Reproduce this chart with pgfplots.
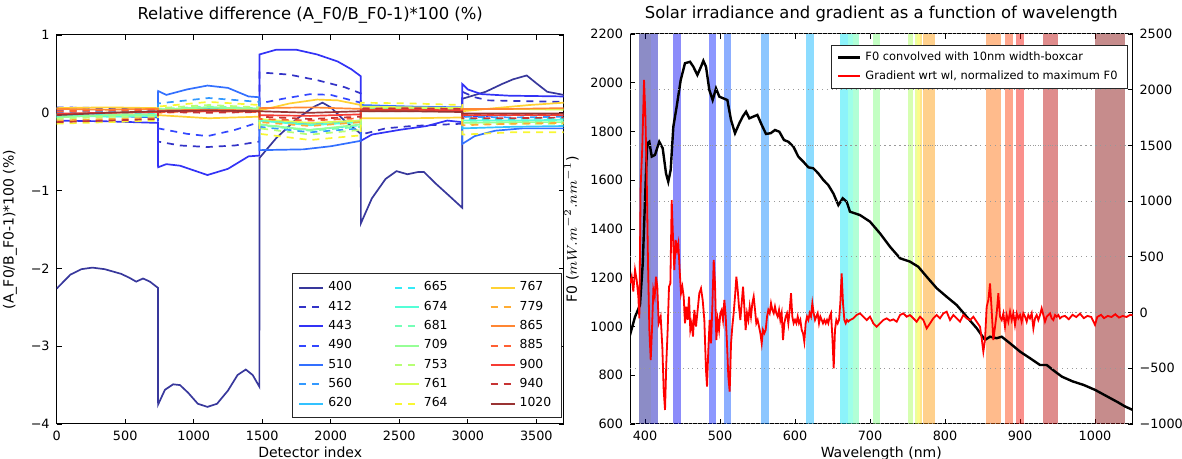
\documentclass[border=0pt]{standalone}
\usepackage{fontspec}
\setmainfont{DejaVu Sans}
\usepackage{pgfplots}
\pgfplotsset{compat=1.18}
\definecolor{j0}{rgb}{0,0,0.5}
\definecolor{j1}{rgb}{0,0,0.727}
\definecolor{j2}{rgb}{0,0,0.955}
\definecolor{j3}{rgb}{0,0.1,1}
\definecolor{j4}{rgb}{0,0.3,1}
\definecolor{j5}{rgb}{0,0.5,1}
\definecolor{j6}{rgb}{0,0.7,1}
\definecolor{j7}{rgb}{0,0.9,0.968}
\definecolor{j8}{rgb}{0.161,1,0.806}
\definecolor{j9}{rgb}{0.323,1,0.645}
\definecolor{j10}{rgb}{0.484,1,0.484}
\definecolor{j11}{rgb}{0.645,1,0.323}
\definecolor{j12}{rgb}{0.806,1,0.161}
\definecolor{j13}{rgb}{0.968,0.963,0}
\definecolor{j14}{rgb}{1,0.778,0}
\definecolor{j15}{rgb}{1,0.593,0}
\definecolor{j16}{rgb}{1,0.407,0}
\definecolor{j17}{rgb}{1,0.222,0}
\definecolor{j18}{rgb}{0.955,0.037,0}
\definecolor{j19}{rgb}{0.727,0,0}
\definecolor{j20}{rgb}{0.5,0,0}
\pgfplotsset{
 dsh/.style={dash pattern=on 3.5pt off 3pt},
 ln/.style={line width=0.85pt},
 s400/.style={ln,color=j0!78!white}, s412/.style={ln,color=j1!80!white,dsh}, s443/.style={ln,color=j2!80!white}, s490/.style={ln,color=j3!80!white,dsh},
 s510/.style={ln,color=j4!80!white}, s560/.style={ln,color=j5!80!white,dsh}, s620/.style={ln,color=j6!80!white}, s665/.style={ln,color=j7!80!white,dsh},
 s674/.style={ln,color=j8!80!white}, s681/.style={ln,color=j9!80!white,dsh}, s709/.style={ln,color=j10!80!white}, s753/.style={ln,color=j11!80!white,dsh},
 s761/.style={ln,color=j12!80!white}, s764/.style={ln,color=j13!80!white,dsh}, s767/.style={ln,color=j14!80!white}, s779/.style={ln,color=j15!80!white,dsh},
 s865/.style={ln,color=j16!80!white}, s885/.style={ln,color=j17!80!white,dsh}, s900/.style={ln,color=j18!80!white}, s940/.style={ln,color=j19!80!white,dsh},
 s1020/.style={ln,color=j20!80!white},
 band/.style={draw=none, fill=#1, fill opacity=0.45, forget plot},
}
\newcommand{\tfont}{\fontsize{6.4}{7.5}\selectfont}
\newcommand{\lfont}{\fontsize{7}{8}\selectfont}
\newcommand{\ttfont}{\fontsize{8.2}{9.5}\selectfont}
\begin{document}
\begin{tikzpicture}
\useasboundingbox (0,0) rectangle (591pt,229.5pt);
% ---------------- left panel ----------------
\begin{axis}[
 at={(28.35pt,17.5pt)}, anchor=south west, scale only axis,
 width=253.5pt, height=194.5pt,
 xmin=0, xmax=3700, ymin=-4, ymax=1,
 xtick={0,500,...,3500}, ytick={-4,-3,-2,-1,0,1},
 yticklabels={−4,−3,−2,−1,0,1},
 /pgf/number format/assume math mode=true,
 /pgf/number format/1000 sep={},
 tick label style={font=\tfont},
 label style={font=\lfont},
 xlabel={Detector index}, ylabel={(A\_F0/B\_F0-1)*100 (\%)},
 xlabel style={yshift=4pt},
 title={Relative difference (A\_F0/B\_F0-1)*100 (\%)},
 title style={font=\ttfont, yshift=-3.5pt},
 tick align=inside, major tick length=2.5pt,
 axis line style={line width=0.5pt},
 every tick/.style={black, line width=0.4pt},
 legend columns=3,
 legend image code/.code={\draw[#1, line width=1pt] (0pt,0pt) -- (12pt,0pt);},
 legend style={at={(0.996,0.015)}, anchor=south east, font=\fontsize{6.2}{6.5}\selectfont,
   draw=black!85, line width=0.5pt, inner xsep=3pt, inner ysep=2pt, row sep=-0.45pt,
   /tikz/every even column/.append style={column sep=19pt}},
 legend cell align=left,
]
\addplot[s400, forget plot] coordinates {(0,-2.26)(100,-2.08)(180,-2.01)(260,-1.99)(350,-2.01)(470,-2.07)(530,-2.12)(580,-2.17)(630,-2.13)(680,-2.17)(739,-2.25)
 (740,-3.75)(790,-3.56)(850,-3.49)(900,-3.5)(960,-3.6)(1030,-3.74)(1100,-3.78)(1170,-3.74)(1250,-3.57)(1320,-3.37)(1380,-3.3)(1430,-3.37)(1479,-3.52)
 (1480,-0.58)(1600,-0.33)(1750,-0.08)(1880,0.08)(1940,0.13)(2000,0.07)(2100,-0.1)(2219,-0.27)
 (2220,-1.42)(2300,-1.1)(2400,-0.85)(2480,-0.75)(2560,-0.79)(2640,-0.76)(2680,-0.76)(2760,-0.9)(2860,-1.06)(2959,-1.22)
 (2960,0.18)(3130,0.27)(3250,0.37)(3330,0.43)(3430,0.48)(3500,0.38)(3580,0.27)(3700,0.23)};
\addplot[s412, forget plot] coordinates {(0,0.07)(370,0.06)(739,0.05)
 (740,-0.37)(900,-0.42)(1100,-0.44)(1300,-0.42)(1479,-0.37)
 (1480,0.52)(1700,0.49)(1900,0.42)(2100,0.33)(2219,0.25)
 (2220,-0.28)(2400,-0.2)(2590,-0.17)(2959,-0.14)
 (2960,0.27)(3050,0.2)(3150,0.16)(3400,0.15)(3700,0.14)};
\addplot[s443, forget plot] coordinates {(0,-0.1)(370,-0.11)(739,-0.13)
 (740,-0.7)(800,-0.66)(900,-0.68)(1100,-0.8)(1250,-0.72)(1400,-0.56)(1479,-0.55)
 (1480,0.75)(1600,0.81)(1750,0.81)(1900,0.75)(2050,0.66)(2150,0.56)(2219,0.47)
 (2220,-0.36)(2300,-0.28)(2500,-0.22)(2700,-0.17)(2850,-0.1)(2959,-0.12)
 (2960,0.37)(3000,0.3)(3100,0.24)(3300,0.22)(3700,0.21)};
\addplot[s490, forget plot] coordinates {(0,0.03)(370,0.02)(739,0.01)
 (740,-0.2)(950,-0.27)(1100,-0.3)(1300,-0.22)(1479,-0.12)
 (1480,0.12)(1650,0.18)(1850,0.24)(2000,0.23)(2219,0.13)
 (2220,0.06)(2590,0.05)(2959,0.05)
 (2960,-0.05)(3330,-0.03)(3700,-0.02)};
\addplot[s510, forget plot] coordinates {(0,-0.02)(370,-0.04)(739,-0.06)
 (740,0.28)(800,0.23)(950,0.3)(1100,0.35)(1250,0.32)(1400,0.21)(1479,0.2)
 (1480,-0.48)(1800,-0.47)(2000,-0.43)(2219,-0.36)
 (2220,0.1)(2590,0.08)(2959,0.07)
 (2960,-0.4)(3050,-0.3)(3200,-0.23)(3400,-0.2)(3700,-0.2)};
\addplot[s560, forget plot] coordinates {(0,0.0)(370,0.02)(739,0.03)(740,0.12)(1110,0.19)(1479,0.14)(1480,-0.18)(1850,-0.25)(2219,-0.2)(2220,0.06)(2590,0.05)(2959,0.04)(2960,-0.05)(3330,-0.06)(3700,-0.05)};
\addplot[s620, forget plot] coordinates {(0,-0.05)(370,-0.03)(739,-0.02)(740,0.04)(1110,0.06)(1479,0.05)(1480,-0.1)(1850,-0.14)(2219,-0.1)(2220,0.05)(2590,0.06)(2959,0.05)(2960,-0.2)(3330,-0.18)(3700,-0.17)};
\addplot[s665, forget plot] coordinates {(0,-0.04)(370,-0.02)(739,0.0)(740,0.03)(1110,0.06)(1479,0.05)(1480,-0.15)(1850,-0.22)(2219,-0.16)(2220,0.04)(2590,0.05)(2959,0.04)(2960,-0.08)(3330,-0.08)(3700,-0.07)};
\addplot[s674, forget plot] coordinates {(0,-0.03)(370,-0.05)(739,-0.04)(740,0.04)(1110,0.07)(1479,0.05)(1480,-0.1)(1850,-0.16)(2219,-0.12)(2220,0.03)(2590,0.04)(2959,0.03)(2960,-0.1)(3330,-0.1)(3700,-0.09)};
\addplot[s681, forget plot] coordinates {(0,-0.06)(370,-0.04)(739,-0.03)(740,0.05)(1110,0.08)(1479,0.06)(1480,-0.16)(1850,-0.23)(2219,-0.18)(2220,0.05)(2590,0.06)(2959,0.05)(2960,-0.12)(3330,-0.12)(3700,-0.11)};
\addplot[s709, forget plot] coordinates {(0,-0.06)(370,-0.03)(739,-0.02)(740,0.04)(1110,0.07)(1479,0.05)(1480,-0.15)(1850,-0.22)(2219,-0.15)(2220,0.04)(2590,0.04)(2959,0.03)(2960,-0.13)(3330,-0.12)(3700,-0.12)};
\addplot[s753, forget plot] coordinates {(0,-0.08)(370,-0.05)(739,-0.05)(740,0.06)(1110,0.1)(1479,0.07)(1480,-0.2)(1850,-0.28)(2219,-0.22)(2220,0.07)(2590,0.06)(2959,0.05)(2960,-0.15)(3330,-0.14)(3700,-0.14)};
\addplot[s761, forget plot] coordinates {(0,-0.02)(370,0.0)(739,0.01)(740,0.02)(1110,0.03)(1479,0.03)(1480,-0.08)(1850,-0.13)(2219,-0.1)(2220,0.08)(2590,0.07)(2959,0.06)(2960,0.05)(3330,0.05)(3700,0.04)};
\addplot[s764, forget plot] coordinates {(0,-0.14)(370,-0.12)(739,-0.1)(740,0.08)(1110,0.14)(1479,0.1)(1480,-0.27)(1850,-0.35)(2219,-0.29)(2220,0.13)(2590,0.12)(2959,0.1)(2960,-0.28)(3330,-0.25)(3700,-0.25)};
\addplot[s767, forget plot] coordinates {(0,0.06)(370,0.07)(739,0.06)(740,-0.03)(1110,-0.07)(1479,-0.05)
 (1480,0.03)(1700,0.12)(1900,0.17)(2050,0.16)(2219,0.1)(2220,-0.07)(2590,-0.07)(2959,-0.06)
 (2960,0.02)(3200,0.06)(3450,0.1)(3700,0.13)};
\addplot[s779, forget plot] coordinates {(0,-0.1)(370,-0.08)(739,-0.07)(740,0.0)(1110,0.02)(1479,0.01)(1480,-0.12)(1850,-0.17)(2219,-0.12)(2220,0.02)(2590,0.02)(2959,0.02)(2960,-0.16)(3330,-0.14)(3700,-0.13)};
\addplot[s865, forget plot] coordinates {(0,0.05)(370,0.04)(739,0.05)(740,0.03)(1110,0.04)(1479,0.03)(1480,0.06)(1850,0.07)(2219,0.05)(2220,0.03)(2590,0.03)(2959,0.02)(2960,0.05)(3330,0.05)(3700,0.06)};
\addplot[s885, forget plot] coordinates {(0,0.02)(370,0.03)(739,0.04)(740,0.01)(1110,0.02)(1479,0.01)(1480,-0.08)(1850,-0.1)(2219,-0.07)(2220,0.06)(2590,0.05)(2959,0.05)(2960,-0.02)(3330,-0.02)(3700,-0.02)};
\addplot[s900, forget plot] coordinates {(0,-0.01)(370,0.0)(739,0.01)(740,0.02)(1110,0.02)(1479,0.02)(1480,-0.03)(1850,-0.04)(2219,-0.02)(2220,0.04)(2590,0.04)(2959,0.03)(2960,-0.03)(3330,-0.03)(3700,-0.03)};
\addplot[s940, forget plot] coordinates {(0,-0.12)(370,-0.1)(739,-0.08)(740,0.01)(1110,0.0)(1479,0.01)(1480,-0.05)(1850,-0.08)(2219,-0.05)(2220,0.05)(2590,0.06)(2959,0.05)(2960,-0.07)(3330,-0.07)(3700,-0.06)};
\addplot[s1020, forget plot] coordinates {(0,-0.03)(370,0.0)(739,0.02)(740,0.02)(1110,0.03)(1479,0.02)(1480,0.02)(1850,0.0)(2219,0.02)(2220,0.02)(2590,0.02)(2959,0.01)(2960,-0.01)(3330,-0.01)(3700,-0.01)};
\addlegendimage{s400}\addlegendentry{400}
\addlegendimage{s665}\addlegendentry{665}
\addlegendimage{s767}\addlegendentry{767}
\addlegendimage{s412}\addlegendentry{412}
\addlegendimage{s674}\addlegendentry{674}
\addlegendimage{s779}\addlegendentry{779}
\addlegendimage{s443}\addlegendentry{443}
\addlegendimage{s681}\addlegendentry{681}
\addlegendimage{s865}\addlegendentry{865}
\addlegendimage{s490}\addlegendentry{490}
\addlegendimage{s709}\addlegendentry{709}
\addlegendimage{s885}\addlegendentry{885}
\addlegendimage{s510}\addlegendentry{510}
\addlegendimage{s753}\addlegendentry{753}
\addlegendimage{s900}\addlegendentry{900}
\addlegendimage{s560}\addlegendentry{560}
\addlegendimage{s761}\addlegendentry{761}
\addlegendimage{s940}\addlegendentry{940}
\addlegendimage{s620}\addlegendentry{620}
\addlegendimage{s764}\addlegendentry{764}
\addlegendimage{s1020}\addlegendentry{1020}
\end{axis}
% ---------------- right panel, left axis ----------------
\begin{axis}[
 at={(315pt,17.5pt)}, anchor=south west, scale only axis,
 width=251.25pt, height=195pt,
 xmin=380, xmax=1050, ymin=600, ymax=2200,
 axis y line*=left,
 xtick={400,500,...,1000}, ytick={600,800,...,2200},
 /pgf/number format/assume math mode=true,
 /pgf/number format/1000 sep={},
 tick label style={font=\tfont},
 label style={font=\lfont},
 xlabel={Wavelength (nm)}, ylabel={F0 ($mW.m^{-2}.nm^{-1}$)},
 xlabel style={yshift=4pt}, ylabel style={yshift=-1pt},
 title={Solar irradiance and gradient as a function of wavelength},
 title style={font=\ttfont, yshift=-3.5pt},
 tick align=inside, major tick length=2.5pt,
 axis line style={line width=0.5pt},
 every tick/.style={black, line width=0.4pt},
]
\addplot[band=j0] coordinates {(392.5,2200)(407.5,2200)} \closedcycle;
\addplot[band=j1] coordinates {(407.5,2200)(417.5,2200)} \closedcycle;
\addplot[band=j2] coordinates {(437.5,2200)(447.5,2200)} \closedcycle;
\addplot[band=j3] coordinates {(485,2200)(495,2200)} \closedcycle;
\addplot[band=j4] coordinates {(505,2200)(515,2200)} \closedcycle;
\addplot[band=j5] coordinates {(555,2200)(565,2200)} \closedcycle;
\addplot[band=j6] coordinates {(615,2200)(625,2200)} \closedcycle;
\addplot[band=j7] coordinates {(660,2200)(670,2200)} \closedcycle;
\addplot[band=j8] coordinates {(670,2200)(677.5,2200)} \closedcycle;
\addplot[band=j9] coordinates {(677.5,2200)(685,2200)} \closedcycle;
\addplot[band=j10] coordinates {(703.75,2200)(713.75,2200)} \closedcycle;
\addplot[band=j11] coordinates {(750,2200)(757.5,2200)} \closedcycle;
\addplot[band=j12] coordinates {(760,2200)(762.5,2200)} \closedcycle;
\addplot[band=j13] coordinates {(762.5,2200)(766.25,2200)} \closedcycle;
\addplot[band=j14] coordinates {(766.25,2200)(768.75,2200)} \closedcycle;
\addplot[band=j15] coordinates {(771.25,2200)(786.25,2200)} \closedcycle;
\addplot[band=j16] coordinates {(855,2200)(875,2200)} \closedcycle;
\addplot[band=j17] coordinates {(880,2200)(890,2200)} \closedcycle;
\addplot[band=j18] coordinates {(895,2200)(905,2200)} \closedcycle;
\addplot[band=j19] coordinates {(930,2200)(950,2200)} \closedcycle;
\addplot[band=j20] coordinates {(1000,2200)(1040,2200)} \closedcycle;
\addplot[black, line width=1.2pt] coordinates {(378,955)(380,965)(386.7,1040)(393.3,1088)(397,1259)(401.3,1628)(403,1751)(405.7,1758)(409,1697)(413.3,1704)(419,1758)(423.6,1731)(428,1628)(431,1594)(434.2,1642)(437.8,1820)(442.2,1902)(447.6,2011)(453.3,2080)(460,2086)(464.4,2066)(469.8,2032)(474.7,2066)(477.8,2090)(481.3,2066)(485.8,1970)(490.2,1929)(494.7,1977)(499.1,1943)(504.4,1936)(509.8,1929)(514.7,1847)(520,1793)(525.8,1834)(530.2,1861)(534.7,1881)(539.1,1854)(544.4,1861)(549.8,1868)(555.6,1827)(561.3,1790)(567.6,1793)(573.3,1806)(579.1,1799)(585.3,1765)(591.1,1758)(597.8,1738)(604.4,1697)(611.1,1676)(617.8,1653)(624.4,1649)(631.1,1628)(637.8,1601)(644.4,1580)(651.1,1546)(657.8,1498)(663.6,1526)(668.9,1512)(673.3,1471)(686.7,1457)(700,1430)(713.3,1382)(726.7,1327)(740,1280)(753.3,1266)(764.4,1245)(775.6,1204)(788.9,1157)(802.2,1122)(815.6,1088)(828.9,1040)(842.2,993)(853.3,945)(860,958)(868.9,952)(875.6,958)(886.7,931)(900,897)(913.3,870)(926.7,842)(935.6,842)(946.7,815)(956,794)(970,775)(985,760)(1000,740)(1015,715)(1030,690)(1040,672)(1050,658)};
\end{axis}
% ---------------- right panel, right axis ----------------
\begin{axis}[
 at={(315pt,17.5pt)}, anchor=south west, scale only axis,
 width=251.25pt, height=195pt,
 xmin=380, xmax=1050, ymin=-1000, ymax=2500,
 axis y line*=right, axis x line=none,
 ytick={-1000,-500,...,2500},
 yticklabels={−1000,−500,0,500,1000,1500,2000,2500},
 tick label style={font=\tfont},
 tick align=inside, major tick length=2.5pt,
 axis line style={line width=0.5pt},
 every tick/.style={black, line width=0.4pt},
 ymajorgrids, major grid style={dotted, black!40, line width=0.5pt},
 extra y ticks={0,1500}, extra y tick labels={},
 extra y tick style={grid style={dotted, black!85, line width=0.5pt}},
 legend image code/.code={\draw[#1] (0pt,0pt) -- (11pt,0pt);},
 legend style={at={(0.991,0.972)}, anchor=north east, font=\fontsize{5.7}{6.2}\selectfont,
   draw=black!85, line width=0.5pt, inner xsep=3pt, inner ysep=1.2pt, row sep=-0.5pt},
 legend cell align=left,
]
\addlegendimage{black, line width=1.2pt}\addlegendentry{F0 convolved with 10nm width-boxcar}
\addplot[red, line width=0.9pt] coordinates {(380,263)(382.2,323)(384.4,189)(386.7,383)(388.9,293)(391.1,144)(392.4,-51)(394.2,1130)(396.4,1489)(398.7,2087)(400.4,1788)(402.2,1250)(404,442)(405.8,-156)(407.6,-426)(409.3,-156)(411.1,203)(412.9,143)(414.7,322)(416.4,232)(418.2,-96)(420.9,-37)(423.1,-306)(424.9,-695)(426.7,-874)(428.4,-455)(430.2,-156)(432,232)(433.8,262)(435.6,1010)(437.3,681)(439.1,382)(440.9,651)(442.7,561)(444.4,621)(446.2,382)(448,173)(449.8,232)(451.6,143)(453.3,-96)(455.1,53)(456.9,-66)(458.7,143)(460.4,-156)(462.2,-96)(464,-216)(465.8,23)(468,-126)(470.2,23)(472.4,173)(474.7,217)(476.9,113)(479.1,-66)(481.3,-515)(482.7,-665)(484.4,-336)(486.2,-66)(488,-276)(489.8,53)(491.6,472)(493.3,262)(495.1,-246)(496.9,-66)(498.7,-156)(500.4,-6)(502.2,23)(504,-66)(505.8,113)(507.6,-36)(509.3,-276)(511.1,-575)(512.9,-710)(514.7,-276)(516.4,-126)(518.2,-6)(520,143)(521.8,322)(523.6,203)(525.3,53)(527.1,-66)(528.9,83)(530.7,232)(532.4,53)(534.2,-156)(536,-6)(537.8,-66)(539.6,53)(541.3,-36)(543.1,83)(544.9,143)(546.7,23)(548.4,-96)(550.2,-66)(552,-126)(553.8,-186)(555.6,-276)(557.3,-156)(559.1,-186)(560.9,-156)(562.7,-36)(564.4,23)(566.2,-6)(568,83)(569.8,23)(571.6,-6)(573.3,53)(575.1,-6)(576.9,-36)(578.7,23)(580.4,-66)(582.2,-6)(584,-246)(585.8,-96)(587.6,-36)(589.3,-6)(591.1,-96)(592.9,23)(594.7,173)(596.4,-36)(598.2,-96)(600,-66)(601.8,-96)(603.6,-36)(605.3,-96)(607.1,-66)(608.9,-156)(610.7,-186)(612.4,-261)(614.2,-96)(616,-36)(617.8,-66)(619.6,-6)(621.3,-36)(623.1,83)(624.9,-6)(626.7,-66)(628.4,-36)(630.2,-6)(632,-96)(633.8,-36)(635.6,-66)(637.3,-96)(639.1,-66)(640.9,-96)(642.7,-66)(644.4,-96)(646.2,-36)(648,-6)(649.8,-216)(651.6,-500)(653.3,-156)(655.1,-66)(656.9,-96)(658.7,-66)(660.4,83)(662.2,352)(664,83)(665.8,-66)(667.6,-96)(669.3,-66)(671.1,-81)(673.3,-67)(677.8,-52)(682.2,-22)(686.7,-7)(691.1,-37)(695.6,-67)(700,-37)(704.4,-97)(708.9,-127)(713.3,-97)(717.8,-67)(722.2,-52)(726.7,-73)(731.1,-61)(735.6,-82)(740,-22)(744.4,-7)(748.9,-37)(753.3,-22)(757.8,-52)(762.2,-82)(766.7,-37)(771.1,-67)(775.6,-142)(780,-97)(784.4,-52)(788.9,-22)(793.3,-52)(797.8,-7)(802.2,8)(806.7,-67)(811.1,-22)(815.6,-52)(820,-82)(824.4,-22)(828.9,-52)(833.3,-67)(837.8,-37)(842.2,-82)(846.7,-127)(848.9,-232)(851.1,-351)(853.3,-247)(855.6,53)(857.8,113)(860,262)(862.2,23)(864.4,-247)(866.7,-127)(868.9,-7)(871.1,173)(873.3,-37)(875.6,-67)(877.8,-7)(880,-127)(882.2,-22)(884.4,-82)(886.7,8)(888.9,-67)(891.1,-7)(893.3,-112)(895.6,-7)(897.8,-52)(900,-22)(902.2,-82)(904.4,-7)(906.7,-37)(908.9,-82)(911.1,-22)(913.3,-52)(915.6,-7)(917.8,-142)(920,-52)(922.2,-22)(924.4,-67)(926.7,-22)(928.9,38)(931.1,-22)(933.3,-82)(935.6,-37)(937.8,-22)(940,-7)(942.2,-52)(944.4,-67)(946.7,-22)(948.9,-37)(951.1,-22)(953.3,-52)(956,-37)(960,-30)(965,-60)(970,-20)(975,-40)(980,-10)(985,-50)(990,-30)(995,-40)(1000,-110)(1003,-40)(1008,-20)(1012,-50)(1017,-30)(1022,-40)(1027,-15)(1032,-45)(1037,-30)(1042,-40)(1047,-20)(1050,-25)};
\addlegendentry{Gradient wrt wl, normalized to maximum F0}
\end{axis}
\end{tikzpicture}
\end{document}
